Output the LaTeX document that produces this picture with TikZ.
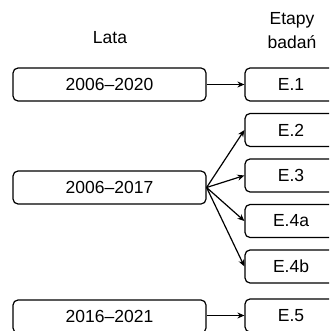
\documentclass[tikz,border=0pt]{standalone}
\usepackage{fontspec}
\setmainfont{Liberation Sans}
\usetikzlibrary{arrows.meta}

\begin{document}
\begin{tikzpicture}[x=1pt,y=-1pt,
    box/.style={draw,rounded corners=5pt,line width=1.2pt,minimum height=33pt,inner sep=0pt,font=\fontsize{17.5}{21}\selectfont},
    lat/.style={box,minimum width=193pt},
    etap/.style={box,minimum width=92pt},
    arr/.style={-{Stealth[length=7pt,width=6pt]},line width=1.2pt}]
    \clip (0,0) rectangle (329,331);
    % naglowki
    \node[font=\fontsize{17.5}{21}\selectfont] (hl) at (110,38) {Lata};
    \node[font=\fontsize{17.5}{24}\selectfont,align=center] (he) at (292,31) {Etapy\\badań};
    % lata
    \node[lat] (y1) at (109.5,84.5) {2006–2020};
    \node[lat] (y2) at (109.5,187.5) {2006–2017};
    \node[lat] (y3) at (109.5,316.5) {2016–2021};
    % etapy
    \node[etap] (e1) at (291,84.5) {E.1};
    \node[etap] (e2) at (291,130) {E.2};
    \node[etap] (e3) at (291,175.5) {E.3};
    \node[etap] (e4a) at (291,221) {E.4a};
    \node[etap] (e4b) at (291,266.5) {E.4b};
    \node[etap] (e5) at (291,315.5) {E.5};
    % strzalki
    \draw[arr] (y1.east) -- (e1.west);
    \foreach \e in {e2,e3,e4a,e4b}
        \draw[arr] (y2.east) -- (\e.west);
    \draw[arr] (y3.east |- e5.west) -- (e5.west);
\end{tikzpicture}
\end{document}
